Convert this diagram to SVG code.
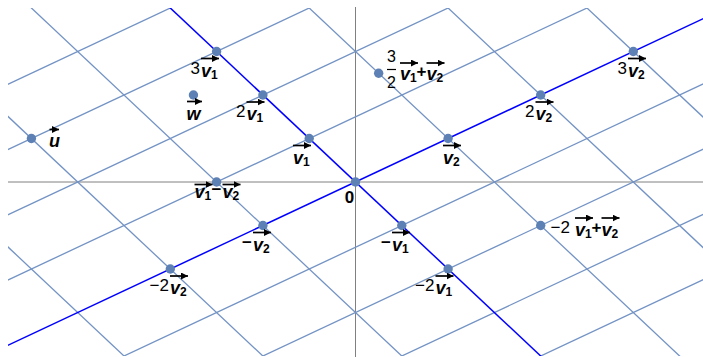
<svg xmlns="http://www.w3.org/2000/svg" width="703" height="357" viewBox="0 0 703 357">
<style>
.bg{fill:#fff}
.axis{stroke:#808080;stroke-width:1;fill:none}
.grid{stroke:#7393c4;stroke-width:1.3;fill:none}
.main{stroke:#0000ff;stroke-width:1.5;fill:none}
.dot{fill:#5e81b5}
.c{font-family:"Liberation Sans",Arial,sans-serif;font-size:17px;fill:#000}
.op{font-family:"Liberation Sans",Arial,sans-serif;font-size:17px;font-weight:bold;fill:#000}
.v{font-family:"Liberation Sans",Arial,sans-serif;font-size:18px;font-weight:bold;font-style:italic;fill:#000}
.s{font-family:"Liberation Sans",Arial,sans-serif;font-size:12px;font-weight:bold;fill:#000}
.fr{font-family:"Liberation Sans",Arial,sans-serif;font-size:16px;fill:#000}
.ar{stroke:#000;stroke-width:1.7;fill:none;marker-end:url(#ah)}
.bar{stroke:#000;stroke-width:1.2}
</style>
<defs>
<clipPath id="plot"><rect x="8" y="8" width="695" height="348"/></clipPath>
<marker id="ah" markerUnits="userSpaceOnUse" markerWidth="8" markerHeight="8" refX="7" refY="3.5" orient="auto"><path d="M0,0 L7,3.5 L0,7 z" fill="#000"/></marker>
</defs>
<rect class="bg" x="0" y="0" width="703" height="357"/>
<g id="axes">
<line class="axis" x1="8" y1="182" x2="703" y2="182"/>
<line class="axis" x1="355.5" y1="7" x2="355.5" y2="357"/>
</g>
<g id="connectors" clip-path="url(#plot)">
<g id="grid-s">
<line class="grid" x1="-570.5" y1="356" x2="911.1" y2="-340"/>
<line class="grid" x1="-524.2" y1="399.5" x2="957.4" y2="-296.5"/>
<line class="grid" x1="-477.9" y1="443" x2="1003.7" y2="-253"/>
<line class="grid" x1="-431.6" y1="486.5" x2="1050" y2="-209.5"/>
<line class="grid" x1="-339" y1="573.5" x2="1142.6" y2="-122.5"/>
<line class="grid" x1="-292.7" y1="617" x2="1188.9" y2="-79"/>
<line class="grid" x1="-246.4" y1="660.5" x2="1235.2" y2="-35.5"/>
<line class="grid" x1="-200.1" y1="704" x2="1281.5" y2="8"/>
</g>
<g id="grid-t">
<line class="grid" x1="-339" y1="-79" x2="494.4" y2="704"/>
<line class="grid" x1="-246.4" y1="-122.5" x2="587" y2="660.5"/>
<line class="grid" x1="-153.8" y1="-166" x2="679.6" y2="617"/>
<line class="grid" x1="31.4" y1="-253" x2="864.8" y2="530"/>
<line class="grid" x1="124" y1="-296.5" x2="957.4" y2="486.5"/>
<line class="grid" x1="216.6" y1="-340" x2="1050" y2="443"/>
</g>
<g id="span-lines">
<line class="main" x1="-61.2" y1="-209.5" x2="772.2" y2="573.5"/>
<line class="main" x1="-385.3" y1="530" x2="1096.3" y2="-166"/>
</g>
</g>
<g id="origin">
<circle class="dot" cx="355.5" cy="182" r="4.7"/>
<text class="op" x="349.5" y="203" text-anchor="middle">0</text>
</g>
<g id="v1">
<circle class="dot" cx="309.2" cy="138.5" r="4.7"/>
<text class="v" x="293" y="163.5">v</text><text class="s" x="303" y="165.5">1</text>
<line class="ar" x1="293" y1="145.5" x2="311" y2="145.5"/>
</g>
<g id="v1x2">
<circle class="dot" cx="262.9" cy="95" r="4.7"/>
<text class="c" x="245.5" y="117" text-anchor="end">2</text>
<text class="v" x="246.5" y="120">v</text><text class="s" x="256.5" y="122">1</text>
<line class="ar" x1="246.5" y1="102" x2="264.5" y2="102"/>
</g>
<g id="v1x3">
<circle class="dot" cx="216.6" cy="51.5" r="4.7"/>
<text class="c" x="200" y="73.5" text-anchor="end">3</text>
<text class="v" x="201" y="76.5">v</text><text class="s" x="211" y="78.5">1</text>
<line class="ar" x1="201" y1="58.5" x2="219" y2="58.5"/>
</g>
<g id="neg-v1">
<circle class="dot" cx="401.8" cy="225.5" r="4.7"/>
<text class="op" x="391" y="247.5" text-anchor="end">−</text>
<text class="v" x="392" y="250.5">v</text><text class="s" x="402" y="252.5">1</text>
<line class="ar" x1="392" y1="232.5" x2="410" y2="232.5"/>
</g>
<g id="neg-v1x2">
<circle class="dot" cx="448.1" cy="269" r="4.7"/>
<text class="c" x="434.5" y="291" text-anchor="end">−2</text>
<text class="v" x="435.5" y="294">v</text><text class="s" x="445.5" y="296">1</text>
<line class="ar" x1="435.5" y1="276" x2="453.5" y2="276"/>
</g>
<g id="v2">
<circle class="dot" cx="448.1" cy="138.5" r="4.7"/>
<text class="v" x="443" y="163.5">v</text><text class="s" x="453" y="165.5">2</text>
<line class="ar" x1="443" y1="145.5" x2="461" y2="145.5"/>
</g>
<g id="v2x2">
<circle class="dot" cx="540.7" cy="95" r="4.7"/>
<text class="c" x="534.5" y="117" text-anchor="end">2</text>
<text class="v" x="535.5" y="120">v</text><text class="s" x="545.5" y="122">2</text>
<line class="ar" x1="535.5" y1="102" x2="553.5" y2="102"/>
</g>
<g id="v2x3">
<circle class="dot" cx="633.3" cy="51.5" r="4.7"/>
<text class="c" x="627" y="73.5" text-anchor="end">3</text>
<text class="v" x="628" y="76.5">v</text><text class="s" x="638" y="78.5">2</text>
<line class="ar" x1="628" y1="58.5" x2="646" y2="58.5"/>
</g>
<g id="neg-v2">
<circle class="dot" cx="262.9" cy="225.5" r="4.7"/>
<text class="op" x="252" y="247.5" text-anchor="end">−</text>
<text class="v" x="253" y="250.5">v</text><text class="s" x="263" y="252.5">2</text>
<line class="ar" x1="253" y1="232.5" x2="271" y2="232.5"/>
</g>
<g id="neg-v2x2">
<circle class="dot" cx="170.3" cy="269" r="4.7"/>
<text class="c" x="169" y="291" text-anchor="end">−2</text>
<text class="v" x="170" y="294">v</text><text class="s" x="180" y="296">2</text>
<line class="ar" x1="170" y1="276" x2="188" y2="276"/>
</g>
<g id="v1-minus-v2">
<circle class="dot" cx="216.6" cy="182" r="4.7"/>
<text class="v" x="194.5" y="198">v</text><text class="s" x="204.5" y="200">1</text>
<line class="ar" x1="194.5" y1="184.5" x2="212.5" y2="184.5"/>
<text class="op" x="211.5" y="195">−</text>
<text class="v" x="222.5" y="198">v</text><text class="s" x="232.5" y="200">2</text>
<line class="ar" x1="222.5" y1="184.5" x2="240.5" y2="184.5"/>
</g>
<g id="neg2v1-plus-v2">
<circle class="dot" cx="540.7" cy="225.5" r="4.7"/>
<text class="c" x="550.5" y="233">−2</text>
<text class="v" x="575" y="236">v</text><text class="s" x="585" y="238">1</text>
<line class="ar" x1="575" y1="218" x2="593" y2="218"/>
<text class="op" x="591.5" y="233">+</text>
<text class="v" x="601.5" y="236">v</text><text class="s" x="611.5" y="238">2</text>
<line class="ar" x1="601.5" y1="218" x2="619.5" y2="218"/>
</g>
<g id="half3v1-plus-v2">
<circle class="dot" cx="378.65" cy="73.25" r="4.7"/>
<text class="fr" x="391.5" y="62" text-anchor="middle">3</text>
<line class="bar" x1="387" y1="69.5" x2="396" y2="69.5"/>
<text class="fr" x="391.5" y="88" text-anchor="middle">2</text>
<text class="v" x="400" y="80">v</text><text class="s" x="410" y="82">1</text>
<line class="ar" x1="400" y1="63" x2="418" y2="63"/>
<text class="op" x="416.5" y="77">+</text>
<text class="v" x="426.5" y="80">v</text><text class="s" x="436.5" y="82">2</text>
<line class="ar" x1="426.5" y1="63" x2="444.5" y2="63"/>
</g>
<g id="w">
<circle class="dot" cx="193.45" cy="95" r="4.7"/>
<text class="v" x="186.5" y="119.5">w</text>
<line class="ar" x1="187" y1="101.5" x2="202" y2="101.5"/>
</g>
<g id="u">
<circle class="dot" cx="31.4" cy="138.5" r="4.7"/>
<text class="v" x="49" y="146.5">u</text>
<line class="ar" x1="49.5" y1="129.5" x2="59" y2="129.5"/>
</g>
</svg>
